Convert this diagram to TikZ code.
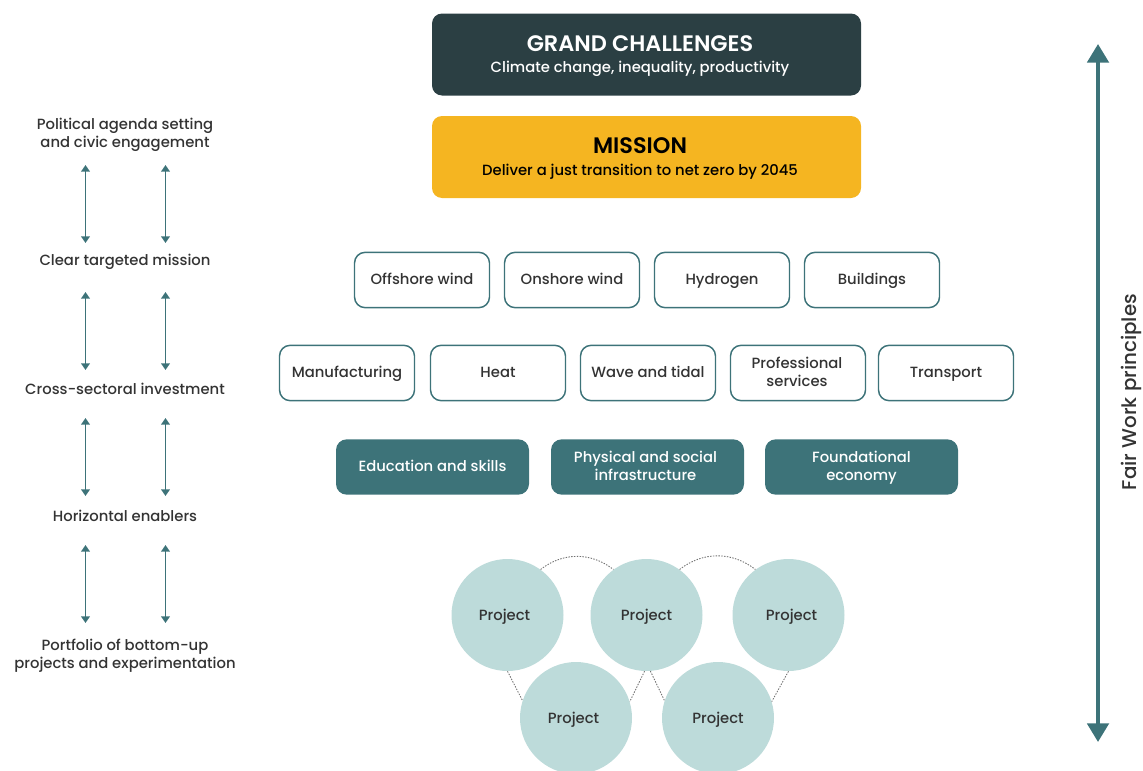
\documentclass[tikz,border=0pt]{standalone}
\usepackage{fontspec}
\setmainfont{Poppins}[UprightFont=* Medium,BoldFont=* SemiBold]
\usetikzlibrary{arrows.meta}
\definecolor{ink}{HTML}{333333}
\definecolor{slatebox}{HTML}{2B3F43}
\definecolor{goldbox}{HTML}{F5B521}
\definecolor{teal}{HTML}{3D7379}
\definecolor{pale}{HTML}{BDDBDA}
\newcommand{\bodyfs}{\fontsize{11.1}{13.5}\selectfont\lineskiplimit=-6pt\relax}
\newcommand{\headfs}{\fontsize{16.8}{20}\selectfont}
\newcommand{\tst}{\rule[-2.55pt]{0pt}{13.5pt}}
\newcommand{\sst}{\rule[-3.3pt]{0pt}{13.5pt}}
\newcommand{\lst}{\rule[-1.8pt]{0pt}{13.5pt}}
\newcommand{\hdl}{\hspace*{-9.75pt}}
\tikzset{
 x=0.75pt,y=-0.75pt,
 every node/.style={font=\bodyfs,text=ink,align=center,inner sep=0pt},
 headbox/.style={rounded corners=7.5pt,minimum width=321.75pt,minimum height=61.5pt},
 sector/.style={draw=teal,line width=1.1pt,fill=white,rounded corners=8pt,minimum width=101.25pt,minimum height=41.5pt},
 enabler/.style={fill=teal,text=white,rounded corners=8pt,minimum width=144.75pt,minimum height=41.5pt},
 project/.style={circle,fill=pale,minimum size=84pt},
 sidelabel/.style={},
 tie/.style={draw=ink!70,line width=0.65pt,dash pattern=on 1.1pt off 1pt},
 twoway/.style={draw=teal,line width=1.4pt,{Triangle[length=5pt,width=6.5pt]}-{Triangle[length=5pt,width=6.5pt]}},
 bigway/.style={draw=teal,line width=3pt,{Triangle[length=14pt,width=16pt]}-{Triangle[length=14pt,width=16pt]}}
}
\begin{document}
\begin{tikzpicture}
\path[use as bounding box,clip] (0,0) rectangle (1143,771);
% headers
\node[headbox,fill=slatebox,text=white] (grand) at (646.5,54.5) {\hdl\rule{0pt}{14pt}{\headfs\bfseries GRAND CHALLENGES}\\[2pt]\hdl{\color{white}Climate change, inequality, productivity}};
\node[headbox,fill=goldbox,text=black] (mission) at (646.5,157) {\hdl\rule{0pt}{14pt}{\headfs\bfseries MISSION}\\[2.6pt]\hdl Deliver a just transition to net zero by 2045};
% sectors
\node[sector] (s1) at (422,280) {\sst Offshore wind};
\node[sector] (s2) at (572,280) {\sst Onshore wind};
\node[sector] (s3) at (722,280) {\sst Hydrogen};
\node[sector] (s4) at (872,280) {\sst Buildings};
\node[sector] (s5) at (347,373) {\sst Manufacturing};
\node[sector] (s6) at (498,373) {\sst Heat};
\node[sector] (s7) at (648,373) {\sst Wave and tidal};
\node[sector] (s8) at (798,373) {\hspace*{-1.5pt}\sst Professional\\\hspace*{-1.5pt}\sst services};
\node[sector] (s9) at (946,373) {\sst Transport};
% enablers
\node[enabler] (e1) at (432.5,467) {\sst Education and skills};
\node[enabler] (e2) at (647.5,467) {\hspace*{-3pt}\sst Physical and social\\\hspace*{-3pt}\sst infrastructure};
\node[enabler] (e3) at (861.5,467) {\sst Foundational\\\sst economy};
% projects
\node[project] (p1) at (507.5,615) {\hspace*{-4.5pt}\tst Project};
\node[project] (p2) at (646.5,615) {\tst Project};
\node[project] (p3) at (788.5,615) {\hspace*{4.5pt}\tst Project};
\node[project] (p4) at (576,718) {\hspace*{-3.75pt}\lst Project};
\node[project] (p5) at (718,718) {\lst Project};
\draw[tie] (p1.54) to[bend left=38] (p2.126);
\draw[tie] (p2.54) to[bend left=38] (p3.126);
\draw[tie] (p1.270) -- (p4.162);
\draw[tie] (p2.268) -- (p4.17);
\draw[tie] (p2.274) -- (p5.162);
\draw[tie] (p3.270) -- (p5.17);
% side labels
\node[sidelabel] (l1) at (125,133) {\tst Political agenda setting\\\tst and civic engagement};
\node[sidelabel] (l2) at (125,260.5) {\tst Clear targeted mission};
\node[sidelabel] (l3) at (125,388.5) {\tst Cross-sectoral investment};
\node[sidelabel] (l4) at (125,516) {\tst Horizontal enablers};
\node[sidelabel] (l5) at (125,654) {\tst Portfolio of bottom-up\\\tst projects and experimentation};
% side arrows
\foreach \n/\t/\b in {a/165/243,b/292/370,c/418/496,d/545/623}{
  \coordinate (\n Lt) at (85.5,\t);
  \coordinate (\n Lb) at (85.5,\b);
  \coordinate (\n Rt) at (165.5,\t);
  \coordinate (\n Rb) at (165.5,\b);
  \draw[twoway] (\n Lt) -- (\n Lb);
  \draw[twoway] (\n Rt) -- (\n Rb);
}
% main arrow
\coordinate (topEnd) at (1098,44);
\coordinate (botEnd) at (1098,742);
\draw[bigway] (topEnd) -- (botEnd);
\node[rotate=90,font=\fontsize{14.9}{18}\selectfont] (fair) at (1131.5,392) {Fair Work principles};
\end{tikzpicture}
\end{document}
